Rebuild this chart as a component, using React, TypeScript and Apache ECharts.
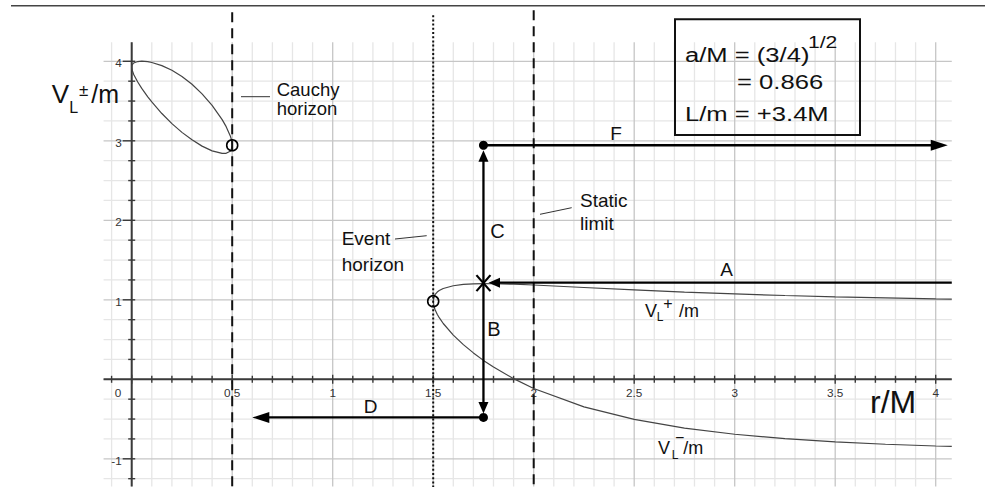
import React, { useEffect, useRef } from 'react';
import * as echarts from 'echarts';

// ---- axis ticks ----
const xTickValues = [0, 0.5, 1, 1.5, 2, 2.5, 3, 3.5, 4];
const xTickLabels = ['0', '0.5', '1', '1.5', '2', '2.5', '3', '3.5', '4'];
const yTickValues = [-1, 1, 2, 3, 4];
const yTickLabels = ['-1', '1', '2', '3', '4'];

// ---- potential curves, inside the Cauchy horizon (r/M from 0 to 0.5) ----
const rInner = [0, 0.002, 0.01, 0.03, 0.05, 0.08, 0.1, 0.15, 0.2, 0.25, 0.3, 0.35, 0.4, 0.45, 0.47, 0.49, 0.495, 0.5];
const vPlusInner = [3.926, 3.954, 3.979, 3.997, 4.001, 3.995, 3.985, 3.946, 3.888, 3.81, 3.711, 3.591, 3.446, 3.266, 3.178, 3.065, 3.025, 2.944];
const vMinusInner = [3.926, 3.89, 3.834, 3.739, 3.659, 3.553, 3.489, 3.343, 3.216, 3.106, 3.012, 2.933, 2.873, 2.841, 2.843, 2.869, 2.886, 2.944];

// ---- potential curves, outside the event horizon (r/M from 1.5 on) ----
const rOuter = [1.5, 1.505, 1.51, 1.52, 1.53, 1.55, 1.6, 1.65, 1.7, 1.75, 1.8, 1.9, 2.0, 2.25, 2.5, 2.75, 3.0, 3.25, 3.5, 3.75, 4.0, 4.08];
const vPlusOuter = [0.982, 1.045, 1.068, 1.097, 1.116, 1.142, 1.177, 1.193, 1.201, 1.203, 1.202, 1.196, 1.186, 1.155, 1.125, 1.097, 1.074, 1.054, 1.037, 1.023, 1.011, 1.008];
const vMinusOuter = [0.982, 0.906, 0.871, 0.818, 0.775, 0.702, 0.556, 0.436, 0.332, 0.238, 0.154, 0.008, -0.115, -0.347, -0.505, -0.614, -0.691, -0.746, -0.787, -0.817, -0.839, -0.845];

// ---- special radii: Cauchy horizon, event horizon, static limit ----
const horizonR = [0.5, 1.5, 2];
const horizonKind = ['dashed', 'dotted', 'dashed'];

// ---- markers ----
const openCircles = [[0.5, 2.944], [1.5, 0.982]];
const turnPoints = [[1.75, 2.944], [1.75, -0.48]];
const crossPoint = [1.75, 1.21];

// ---- arrows (from -> tip) ----
const arrowNames = ['A', 'B', 'C', 'D', 'F'];
const arrowFrom = [[4.08, 1.215], [1.75, 1.21], [1.75, 1.21], [1.75, -0.48], [1.75, 2.944]];
const arrowTo = [[1.775, 1.215], [1.75, -0.43], [1.75, 2.88], [0.6, -0.48], [4.06, 2.944]];

const X_MIN = -0.14, X_MAX = 4.08, Y_MIN = -1.35, Y_MAX = 4.24;
const FONT = '"Liberation Sans", Arial, Helvetica, sans-serif';

const seg = (x1: number, y1: number, x2: number, y2: number, stroke: string, lineWidth: number, lineDash?: number[]) => ({
  type: 'line',
  shape: { x1, y1, x2, y2 },
  style: { stroke, lineWidth, lineDash: lineDash || null, fill: null },
});

const txt = (text: string, x: number, y: number, size: number, align = 'left', scaleX = 1, fill = '#111') => ({
  type: 'text',
  x,
  y,
  scaleX,
  scaleY: 1,
  z: 100,
  style: {
    text,
    fill,
    font: `${size}px ${FONT}`,
    align,
    verticalAlign: 'middle',
    textAlign: align,
    textVerticalAlign: 'middle',
  },
});

function buildOption() {
  const loop: number[][] = [];
  rInner.forEach((r, i) => loop.push([r, vPlusInner[i]]));
  for (let i = rInner.length - 1; i >= 0; i--) loop.push([rInner[i], vMinusInner[i]]);
  const plusOuter = rOuter.map((r, i) => [r, vPlusOuter[i]]);
  const minusOuter = rOuter.map((r, i) => [r, vMinusOuter[i]]);

  const renderGrid = (_p: any, api: any) => {
    const minor: any[] = [];
    const major: any[] = [];
    for (let i = -1; i <= 40; i++) {
      const x = i / 10;
      const a = api.coord([x, Y_MIN]);
      const b = api.coord([x, Y_MAX]);
      const isMajor = i % 5 === 0;
      (isMajor ? major : minor).push(seg(a[0], a[1], b[0], b[1], isMajor ? '#c6c6c6' : '#e6e6e6', 1.3));
    }
    for (let j = -5; j <= 16; j++) {
      const y = j / 4;
      const a = api.coord([X_MIN, y]);
      const b = api.coord([X_MAX, y]);
      const isMajor = j % 4 === 0;
      (isMajor ? major : minor).push(seg(a[0], a[1], b[0], b[1], isMajor ? '#c6c6c6' : '#e6e6e6', 1.3));
    }
    return { type: 'group', children: [...minor, ...major] };
  };

  const renderAxes = (_p: any, api: any) => {
    const ch: any[] = [];
    const stroke = '#3a3a3a';
    const a0 = api.coord([X_MIN, 0]);
    const a1 = api.coord([X_MAX, 0]);
    ch.push(seg(a0[0], a0[1], a1[0], a1[1], stroke, 2));
    const b0 = api.coord([0, Y_MIN]);
    const b1 = api.coord([0, Y_MAX]);
    ch.push(seg(b0[0], b0[1], b1[0], b1[1], stroke, 2));
    for (let i = -1; i <= 40; i++) {
      const p = api.coord([i / 10, 0]);
      const h = i % 5 === 0 ? 4.5 : 3.5;
      ch.push(seg(p[0], p[1] - h, p[0], p[1] + h, stroke, 1.4));
    }
    for (let j = -5; j <= 16; j++) {
      if (j === 0) continue;
      const p = api.coord([0, j / 4]);
      const isMajor = j % 4 === 0;
      ch.push(seg(p[0] - (isMajor ? 9 : 3.5), p[1], p[0] + 3.5, p[1], stroke, 1.4));
    }
    xTickValues.forEach((v, k) => {
      const p = api.coord([v, 0]);
      ch.push(txt(xTickLabels[k], p[0] + (v === 0 ? -13.7 : 0), p[1] + 14, 10.5, 'center', 1.12, '#333'));
    });
    yTickValues.forEach((v, k) => {
      const p = api.coord([0, v]);
      ch.push(txt(yTickLabels[k], p[0] - 10, p[1] + 2, 10.5, 'right', 1.12, '#333'));
    });
    return { type: 'group', children: ch };
  };

  const renderHorizon = (params: any, api: any) => {
    const x = api.value(0);
    const kind = horizonKind[params.dataIndex];
    const bottom = api.coord([x, Y_MIN]);
    const top = api.coord([x, Y_MAX]);
    const ext = params.dataIndex === 0 ? 30 : params.dataIndex === 1 ? 27 : 32;
    const dash = kind === 'dotted' ? [2, 2.2] : [10, 6];
    return seg(top[0], top[1] - ext, bottom[0], bottom[1] + 2, '#111', 2, dash);
  };

  const renderArrow = (params: any, api: any) => {
    const name = arrowNames[params.dataIndex];
    const big = name === 'D' || name === 'F';
    const L = big ? 17 : 11.5;
    const W = big ? 11 : 10;
    const p1 = api.coord([api.value(0), api.value(1)]);
    const p2 = api.coord([api.value(2), api.value(3)]);
    const dx = p2[0] - p1[0];
    const dy = p2[1] - p1[1];
    const len = Math.sqrt(dx * dx + dy * dy) || 1;
    const ux = dx / len, uy = dy / len;
    const bx = p2[0] - ux * L, by = p2[1] - uy * L;
    const nx = -uy, ny = ux;
    return {
      type: 'group',
      children: [
        seg(p1[0], p1[1], bx + ux, by + uy, '#000', 2.3),
        {
          type: 'polygon',
          shape: { points: [[p2[0], p2[1]], [bx + nx * W / 2, by + ny * W / 2], [bx - nx * W / 2, by - ny * W / 2]] },
          style: { fill: '#000', stroke: null },
        },
      ],
    };
  };

  const renderCross = (_params: any, api: any) => {
    const p = api.coord([api.value(0), api.value(1)]);
    const hx = 7, hy = 8;
    return {
      type: 'group',
      children: [
        seg(p[0] - hx, p[1] - hy, p[0] + hx, p[1] + hy, '#000', 2.2),
        seg(p[0] - hx, p[1] + hy, p[0] + hx, p[1] - hy, '#000', 2.2),
      ],
    };
  };

  const graphic: any[] = [
    { type: 'line', shape: { x1: 11, y1: 5.7, x2: 985, y2: 5.7 }, style: { stroke: '#444', lineWidth: 1.6 }, z: 100 },
    { type: 'rect', shape: { x: 675, y: 19.3, width: 185, height: 115.7 }, style: { fill: 'none', stroke: '#111', lineWidth: 2 }, z: 100 },
    txt('a/M = (3/4)', 685, 55, 20, 'left', 1.28),
    txt('1/2', 808, 42.5, 16, 'left', 1.32),
    txt('= 0.866', 737, 82.5, 20, 'left', 1.28),
    txt('L/m = +3.4M', 685, 114, 20, 'left', 1.28),
    // left label V_L±/m
    txt('V', 51.7, 94.2, 26),
    txt('L', 69.3, 107.5, 16),
    txt('±', 79, 90, 17),
    txt('/m', 91.2, 94.2, 25),
    // V_L+/m
    txt('V', 645, 310.5, 18),
    txt('L', 656.7, 316.7, 12),
    txt('+', 663.3, 303, 16),
    txt('/m', 679, 310.5, 18),
    // V_L-/m
    txt('V', 658, 448, 18),
    txt('L', 671.7, 454.7, 12),
    txt('−', 675, 437, 16),
    txt('/m', 683.3, 448, 18),
    // axis title
    txt('r/M', 870, 401.7, 32),
    // annotations
    txt('Cauchy', 276.7, 89.5, 18.5),
    txt('horizon', 276.7, 108.5, 18.5),
    { type: 'line', shape: { x1: 241, y1: 96.7, x2: 270, y2: 96.7 }, style: { stroke: '#333', lineWidth: 1 }, z: 100 },
    txt('Event', 341.7, 238.4, 19),
    txt('horizon', 341.7, 264.4, 19),
    { type: 'line', shape: { x1: 395, y1: 239, x2: 426.7, y2: 235.7 }, style: { stroke: '#333', lineWidth: 1 }, z: 100 },
    txt('Static', 580, 200, 19),
    txt('limit', 580, 223.4, 19),
    { type: 'line', shape: { x1: 540, y1: 214.3, x2: 571.7, y2: 207.7 }, style: { stroke: '#333', lineWidth: 1 }, z: 100 },
    // arrow letters
    txt('F', 616, 133, 19, 'center'),
    txt('C', 497.5, 230.8, 20, 'center'),
    txt('B', 494, 329, 20, 'center'),
    txt('A', 726.7, 269.3, 19, 'center'),
    txt('D', 370.5, 406.3, 19, 'center'),
  ];

  return {
    animation: false,
    backgroundColor: '#ffffff',
    grid: { left: 103.56, right: 36.22, top: 42.22, bottom: 0.38, containLabel: false },
    xAxis: { type: 'value', min: X_MIN, max: X_MAX, show: false },
    yAxis: { type: 'value', min: Y_MIN, max: Y_MAX, show: false },
    series: [
      { type: 'custom', name: 'grid', silent: true, z: 0, data: [[0, 0]], renderItem: renderGrid },
      { type: 'custom', name: 'axes', silent: true, z: 1, data: [[0, 0]], renderItem: renderAxes },
      { type: 'line', name: 'V inner', data: loop, showSymbol: false, symbol: 'none', silent: true, z: 3, lineStyle: { color: '#444', width: 1.2 } },
      { type: 'line', name: 'V+', data: plusOuter, showSymbol: false, symbol: 'none', silent: true, z: 3, lineStyle: { color: '#444', width: 1.2 } },
      { type: 'line', name: 'V-', data: minusOuter, showSymbol: false, symbol: 'none', silent: true, z: 3, lineStyle: { color: '#444', width: 1.2 } },
      { type: 'custom', name: 'horizons', silent: true, z: 4, data: horizonR.map((r) => [r, 0]), renderItem: renderHorizon },
      {
        type: 'custom', name: 'arrows', silent: true, z: 5,
        data: arrowFrom.map((f, i) => [f[0], f[1], arrowTo[i][0], arrowTo[i][1]]),
        encode: { x: [0, 2], y: [1, 3] },
        renderItem: renderArrow,
      },
      { type: 'custom', name: 'cross', silent: true, z: 6, data: [crossPoint], renderItem: renderCross },
      {
        type: 'scatter', name: 'open', silent: true, z: 6, data: openCircles, symbol: 'circle', symbolSize: 11,
        itemStyle: { color: 'rgba(255,255,255,0)', borderColor: '#000', borderWidth: 1.6, opacity: 1 },
      },
      {
        type: 'scatter', name: 'dots', silent: true, z: 6, data: turnPoints, symbol: 'circle', symbolSize: 9,
        itemStyle: { color: '#000', opacity: 1 },
      },
    ],
    graphic,
  };
}

export default function App() {
  const ref = useRef<HTMLDivElement>(null);
  useEffect(() => {
    if (!ref.current) return;
    const chart = echarts.init(ref.current, null, { renderer: 'svg' });
    chart.setOption(buildOption() as any);
    return () => chart.dispose();
  }, []);
  return (
    <div
      ref={ref}
      style={{ position: 'fixed', left: 0, top: 0, width: 988, height: 487, background: '#fff' }}
    />
  );
}
